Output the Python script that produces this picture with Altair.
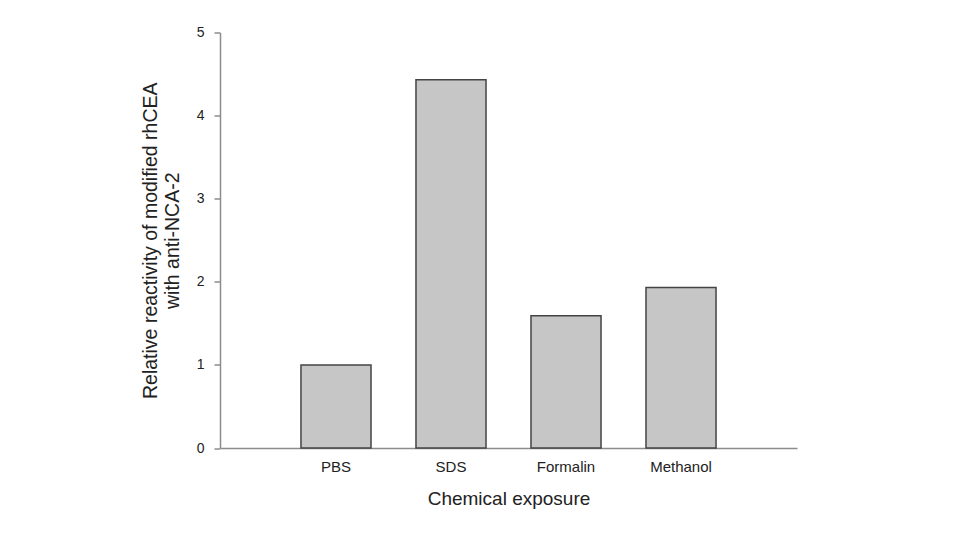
import altair as alt
import pandas as pd

categories = ["PBS", "SDS", "Formalin", "Methanol"]
values = [1.0, 4.43, 1.59, 1.93]

df = pd.DataFrame({"treatment": categories, "reactivity": values})

FONT = "Liberation Sans"

chart = (
    alt.Chart(df)
    .mark_bar(fill="#c6c6c6", stroke="#444444", strokeWidth=1.5)
    .encode(
        x=alt.X(
            "treatment:N",
            sort=categories,
            scale=alt.Scale(paddingInner=0.391, paddingOuter=0.704),
            axis=alt.Axis(
                title="Chemical exposure",
                labelAngle=0,
                ticks=False,
                tickSize=0,
                labelPadding=11,
                labelFontSize=15,
                titleFontSize=19,
                titlePadding=15,
                titleFontWeight="normal",
            ),
        ),
        y=alt.Y(
            "reactivity:Q",
            scale=alt.Scale(domain=[0, 5], nice=False),
            axis=alt.Axis(
                title=["Relative reactivity of modified rhCEA", "with anti-NCA-2"],
                values=[0, 1, 2, 3, 4, 5],
                tickSize=6,
                labelPadding=10,
                labelFontSize=14,
                titleFontSize=19.5,
                titlePadding=14,
                titleFontWeight="normal",
                titleLineHeight=22,
                grid=False,
            ),
        ),
    )
    .properties(
        width=577,
        height=415.5,
        autosize=alt.AutoSizeParams(type="none"),
        padding={"left": 212, "top": 24.5, "right": 150, "bottom": 90},
    )
    .configure_view(stroke=None)
    .configure_axis(
        labelFont=FONT,
        titleFont=FONT,
        labelColor="#222222",
        titleColor="#222222",
        domainColor="#8c8c8c",
        domainWidth=1.5,
        tickColor="#8c8c8c",
        tickWidth=1.5,
        grid=False,
    )
)

chart.save("out.html", embed_options={"renderer": "svg", "actions": False})
